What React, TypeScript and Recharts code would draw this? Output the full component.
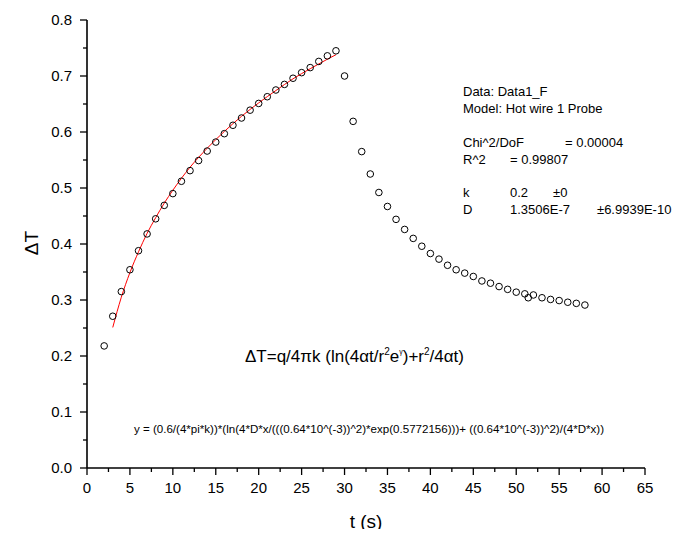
import React from 'react';
import { ComposedChart, Scatter, Line, XAxis, YAxis } from 'recharts';

// measured temperature rise (open circles)
const tData = [
  2, 3, 4, 5, 6, 7, 8, 9, 10, 11, 12, 13, 14, 15, 16, 17, 18, 19, 20, 21,
  22, 23, 24, 25, 26, 27, 28, 29, 30, 31, 32, 33, 34, 35, 36, 37, 38, 39, 40, 41,
  42, 43, 44, 45, 46, 47, 48, 49, 50, 51, 51.4, 52, 53, 54, 55, 56, 57, 58,
];
const dTData = [
  0.218, 0.271, 0.315, 0.354, 0.388, 0.418, 0.445, 0.469, 0.49, 0.512, 0.531, 0.549, 0.566, 0.582, 0.597, 0.612, 0.625, 0.639, 0.651, 0.663,
  0.675, 0.685, 0.696, 0.706, 0.715, 0.726, 0.736, 0.745, 0.7, 0.619, 0.565, 0.525, 0.492, 0.467, 0.444, 0.426, 0.41, 0.396, 0.383, 0.373,
  0.362, 0.354, 0.348, 0.342, 0.334, 0.33, 0.324, 0.319, 0.314, 0.311, 0.304, 0.309, 0.304, 0.301, 0.299, 0.296, 0.294, 0.291,
];

// fitted curve (red)
const fitT = [3, 4, 5, 6, 7, 8, 9, 10, 12, 14, 16, 18, 20, 22, 24, 26, 28, 29];
const fitDT = [0.251, 0.305, 0.349, 0.386, 0.419, 0.447, 0.473, 0.496, 0.537, 0.571, 0.601, 0.628, 0.652, 0.674, 0.695, 0.713, 0.73, 0.738];

const xTicks = [0, 2.5, 5, 7.5, 10, 12.5, 15, 17.5, 20, 22.5, 25, 27.5, 30, 32.5, 35, 37.5, 40, 42.5, 45, 47.5, 50, 52.5, 55, 57.5, 60, 62.5, 65];
const yTicks = [0, 0.05, 0.1, 0.15, 0.2, 0.25, 0.3, 0.35, 0.4, 0.45, 0.5, 0.55, 0.6, 0.65, 0.7, 0.75, 0.8];

const measured = tData.map((t, i) => ({ t, dT: dTData[i] }));
const fit = fitT.map((t, i) => ({ t, dT: fitDT[i] }));

const FONT = 'Arial, "Liberation Sans", sans-serif';

function XTick(props: any) {
  const { x, y, payload } = props;
  const v = payload.value;
  const major = Math.abs(v / 5 - Math.round(v / 5)) < 1e-6;
  return (
    <g>
      <line x1={x} y1={y} x2={x} y2={y + (major ? 7 : 4)} stroke="#000" strokeWidth={1.3} />
      {major && (
        <text x={x} y={y + 25} textAnchor="middle" fontSize={15} fontFamily={FONT} fill="#000">
          {v}
        </text>
      )}
    </g>
  );
}

function YTick(props: any) {
  const { x, y, payload } = props;
  const v = payload.value;
  const major = Math.abs(v * 10 - Math.round(v * 10)) < 1e-6;
  return (
    <g>
      <line x1={x - (major ? 7 : 4)} y1={y} x2={x} y2={y} stroke="#000" strokeWidth={1.3} />
      {major && (
        <text x={x - 15} y={y + 5} textAnchor="end" fontSize={15} fontFamily={FONT} fill="#000">
          {v.toFixed(1)}
        </text>
      )}
    </g>
  );
}

const OpenCircle = (p: any) => (
  <circle cx={p.cx} cy={p.cy} r={3.3} fill="none" stroke="#000" strokeWidth={1} />
);

export default function App() {
  return (
    <div style={{ position: 'relative', width: 696, height: 537, margin: -8, background: '#fff' }}>
      <ComposedChart width={696} height={537} margin={{ top: 20, right: 51, left: 0, bottom: 0 }}>
        <XAxis
          dataKey="t"
          type="number"
          domain={[0, 65]}
          ticks={xTicks}
          interval={0}
          tick={(p: any) => <XTick {...p} />}
          tickLine={false}
          tickSize={0}
          tickMargin={0}
          axisLine={{ stroke: '#000', strokeWidth: 1.6 }}
          height={69}
        />
        <YAxis
          type="number"
          domain={[0, 0.8]}
          ticks={yTicks}
          interval={0}
          tick={(p: any) => <YTick {...p} />}
          tickLine={false}
          tickSize={0}
          tickMargin={0}
          axisLine={{ stroke: '#000', strokeWidth: 1.6 }}
          width={87}
        />
        <Line
          data={fit}
          dataKey="dT"
          type="monotone"
          stroke="#ff0000"
          strokeWidth={1}
          dot={false}
          isAnimationActive={false}
        />
        <Scatter data={measured} dataKey="dT" shape={OpenCircle} isAnimationActive={false} />
      </ComposedChart>

      {/* annotations drawn over the plot */}
      <svg
        width={696}
        height={537}
        style={{ position: 'absolute', left: 0, top: 0, pointerEvents: 'none' }}
        fontFamily={FONT}
        fill="#000"
      >
        <text transform="translate(38,243) rotate(-90)" textAnchor="middle" fontSize={19}>
          ΔT
        </text>
        <text x={366} y={528} textAnchor="middle" fontSize={19}>
          t (s)
        </text>

        <g fontSize={13}>
          <text x={463} y={96}>Data: Data1_F</text>
          <text x={463} y={113}>Model: Hot wire 1 Probe</text>
          <text x={463} y={147}>Chi^2/DoF</text>
          <text x={565} y={147}>= 0.00004</text>
          <text x={463} y={164}>R^2</text>
          <text x={510} y={164}>=  0.99807</text>
          <text x={463} y={197}>k</text>
          <text x={510} y={197}>0.2</text>
          <text x={553} y={197}>±0</text>
          <text x={463} y={214}>D</text>
          <text x={510} y={214}>1.3506E-7</text>
          <text x={597} y={214}>±6.9939E-10</text>
        </g>

        <text x={245} y={362} fontSize={17}>
          ΔT=q/4πk (ln(4αt/r
          <tspan dy={-7} fontSize={10}>2</tspan>
          <tspan dy={7}>e</tspan>
          <tspan dy={-8} fontSize={7}>γ</tspan>
          <tspan dy={8}>)+r</tspan>
          <tspan dy={-7} fontSize={10}>2</tspan>
          <tspan dy={7}>/4αt)</tspan>
        </text>

        <text x={134} y={433} fontSize={11} textLength={470} lengthAdjust="spacingAndGlyphs">
          y = (0.6/(4*pi*k))*(ln(4*D*x/(((0.64*10^(-3))^2)*exp(0.5772156)))+ ((0.64*10^(-3))^2)/(4*D*x))
        </text>
      </svg>
    </div>
  );
}
